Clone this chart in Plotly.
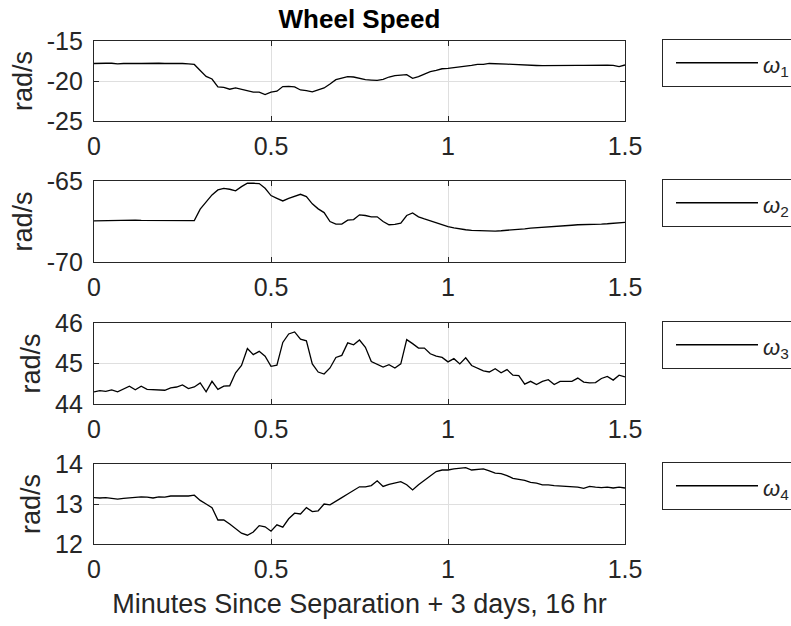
import plotly.graph_objects as go

# ---- data ----
time_s = list(range(91))  # sample times in seconds (1 s spacing)

w1 = [-17.81, -17.75, -17.78, -17.78, -17.85, -17.81, -17.85, -17.81, -17.81, -17.78,
      -17.78, -17.78, -17.81, -17.78, -17.78, -17.81, -17.85,
      -17.93, -18.68, -19.42, -19.75, -20.74, -20.79, -21.03, -20.87, -21.03, -21.24,
      -21.40, -21.40, -21.69, -21.40, -21.28, -20.70, -20.66, -20.74, -21.12, -21.20,
      -21.36, -21.12, -20.87, -20.37, -19.83, -19.63, -19.46, -19.50, -19.67, -19.83,
      -19.88, -19.92, -19.79, -19.50, -19.34, -19.26, -19.21, -19.67, -19.46, -19.13,
      -18.84, -18.68, -18.47, -18.43, -18.35, -18.22, -18.14, -18.06, -17.93, -17.93,
      -17.81, -17.81, -17.85, -17.89, -17.93, -17.98, -18.02, -18.06,
      -18.06, -18.08, -18.06, -18.06, -18.04, -18.06, -18.06, -18.04, -18.04, -18.02,
      -18.04, -18.02, -18.02, -18.04, -18.20, -18.00]

w2 = [-67.46, -67.45, -67.44, -67.43, -67.43, -67.42, -67.42, -67.42, -67.43, -67.43,
      -67.43, -67.44, -67.44, -67.44, -67.44, -67.44, -67.44,
      -67.44, -66.74, -66.31, -65.86, -65.55, -65.45, -65.51, -65.61, -65.35, -65.14,
      -65.14, -65.16, -65.45, -65.90, -66.07, -66.23, -66.07, -65.96, -65.82, -65.96,
      -66.41, -66.72, -66.95, -67.50, -67.66, -67.66, -67.42, -67.38, -67.09, -67.13,
      -67.21, -67.21, -67.50, -67.70, -67.68, -67.60, -67.13, -66.97, -67.21, -67.34,
      -67.46, -67.58, -67.70, -67.81, -67.89, -67.97, -68.01, -68.05, -68.07, -68.07,
      -68.09, -68.09, -68.07, -68.05, -68.03, -67.99, -67.95, -67.91, -67.89, -67.85,
      -67.81, -67.79, -67.77, -67.75, -67.73, -67.70, -67.70, -67.68, -67.68, -67.66,
      -67.64, -67.62, -67.58, -67.55]

w3 = [44.30, 44.33, 44.31, 44.35, 44.30, 44.36, 44.44, 44.35, 44.44, 44.36,
      44.35, 44.35, 44.34, 44.40, 44.42, 44.47, 44.38, 44.42, 44.52, 44.30,
      44.56, 44.36, 44.44, 44.45, 44.77, 44.95, 45.37, 45.22, 45.30, 45.18,
      44.93, 44.96, 45.52, 45.73, 45.78, 45.60, 45.56, 44.99, 44.79, 44.74,
      44.89, 45.15, 45.20, 45.51, 45.46, 45.58, 45.40, 45.05, 44.97, 44.91,
      44.97, 44.89, 44.99, 45.59, 45.49, 45.38, 45.38, 45.24, 45.18, 45.15,
      45.04, 45.12, 44.99, 45.14, 44.95, 44.89, 44.82, 44.79, 44.87, 44.77,
      44.85, 44.71, 44.70, 44.49, 44.56, 44.48, 44.56, 44.60, 44.48, 44.56,
      44.56, 44.56, 44.64, 44.54, 44.52, 44.53, 44.63, 44.68, 44.59, 44.71,
      44.67]

w4 = [13.16, 13.15, 13.16, 13.14, 13.12, 13.14, 13.15, 13.16, 13.18, 13.17,
      13.15, 13.18, 13.17, 13.20, 13.20, 13.20, 13.20, 13.22, 13.09, 13.00,
      12.91, 12.60, 12.60, 12.50, 12.38, 12.27, 12.22, 12.30, 12.46, 12.43,
      12.32, 12.48, 12.42, 12.63, 12.77, 12.75, 12.91, 12.81, 12.83, 13.00,
      12.98, 13.06, 13.16, 13.25, 13.34, 13.43, 13.43,
      13.46, 13.58, 13.44, 13.49, 13.52, 13.56, 13.48, 13.35, 13.48, 13.59,
      13.68, 13.81, 13.85, 13.85, 13.88, 13.89, 13.91, 13.85, 13.87, 13.88,
      13.83, 13.77, 13.76, 13.71, 13.64, 13.62, 13.59, 13.54, 13.52, 13.48,
      13.48, 13.46, 13.45, 13.44, 13.43, 13.42, 13.39, 13.44, 13.42, 13.41,
      13.42, 13.40, 13.42, 13.40]

series = [w1, w2, w3, w4]
names = ["<i>ω</i><sub>1</sub>", "<i>ω</i><sub>2</sub>", "<i>ω</i><sub>3</sub>", "<i>ω</i><sub>4</sub>"]
y_ranges = [[-25, -15], [-70, -65], [44, 46], [12, 14]]
y_ticks = [[-25, -20, -15], [-70, -65], [44, 45, 46], [12, 13, 14]]
x_ticks = [0, 0.5, 1, 1.5]
x_ticklabels = ["0", "0.5", "1", "1.5"]

title_text = "Wheel Speed"
y_label = "rad/s"
x_label = "Minutes Since Separation + 3 days, 16 hr"

# ---- layout geometry ----
W, H = 791, 626
L, R, T, B = 94, 791 - 625, 41, 626 - 544
plot_h = H - T - B
pix_domains = [(41, 121), (181, 262), (323, 404), (464, 544)]

def frac(ypix):
    return (H - B - ypix) / plot_h

FONT = "Liberation Sans, Arial, Helvetica, sans-serif"
AX = "#262626"
GRID = "#dfdfdf"
TICK_SIZE = 25
LABEL_SIZE = 27

time_min = [s / 60 for s in time_s]

fig = go.Figure()
layout = dict(
    width=W, height=H,
    margin=dict(l=L, r=R, t=T, b=B, autoexpand=False),
    paper_bgcolor="white", plot_bgcolor="white",
    font=dict(family=FONT, size=TICK_SIZE, color=AX),
    title=dict(text="<b>" + title_text + "</b>", x=(L + 625) / 2 / W, xanchor="center",
               y=1 - 19 / H, yanchor="middle", font=dict(size=26, color="black")),
)

for k in range(4):
    sfx = "" if k == 0 else str(k + 1)
    leg = "legend" if k == 0 else "legend" + str(k + 1)
    fig.add_trace(go.Scatter(
        x=time_min, y=series[k], mode="lines",
        name='<span style="font-size:22px">' + names[k] + "</span>\u00a0\u00a0\u00a0",
        line=dict(color="black", width=1.3),
        xaxis="x" + sfx, yaxis="y" + sfx, legend=leg, showlegend=True))
    top, bot = pix_domains[k]
    common = dict(showline=True, linecolor=AX, linewidth=1.3, mirror="allticks",
                  ticks="inside", ticklen=5, tickwidth=1.3, tickcolor=AX,
                  showgrid=True, gridcolor=GRID, gridwidth=1, zeroline=False,
                  tickfont=dict(size=TICK_SIZE, color=AX, family=FONT))
    layout["xaxis" + sfx] = dict(
        domain=[0, 1], range=[0, 1.5], tickvals=x_ticks, ticktext=x_ticklabels,
        anchor="y" + sfx, ticklabelstandoff=3, **common)
    layout["yaxis" + sfx] = dict(
        domain=[frac(bot), frac(top)], range=y_ranges[k], tickvals=y_ticks[k],
        ticktext=[str(v) for v in y_ticks[k]],
        anchor="x" + sfx, ticklabelstandoff=5,
        title=dict(text=y_label, font=dict(size=LABEL_SIZE, color=AX, family=FONT), standoff=6),
        **common)
    layout[leg] = dict(
        x=(662 - L) / (W - L - R), xanchor="left",
        y=frac(top - 2), yanchor="top",
        bordercolor=AX, borderwidth=1, bgcolor="white",
        font=dict(size=25, color=AX, family=FONT),
        indentation=8, itemwidth=82, itemclick=False, itemdoubleclick=False)

layout["xaxis4"]["title"] = dict(text=x_label, font=dict(size=LABEL_SIZE, color=AX, family=FONT), standoff=11)

fig.update_layout(**layout)
fig.write_html("out.html")
